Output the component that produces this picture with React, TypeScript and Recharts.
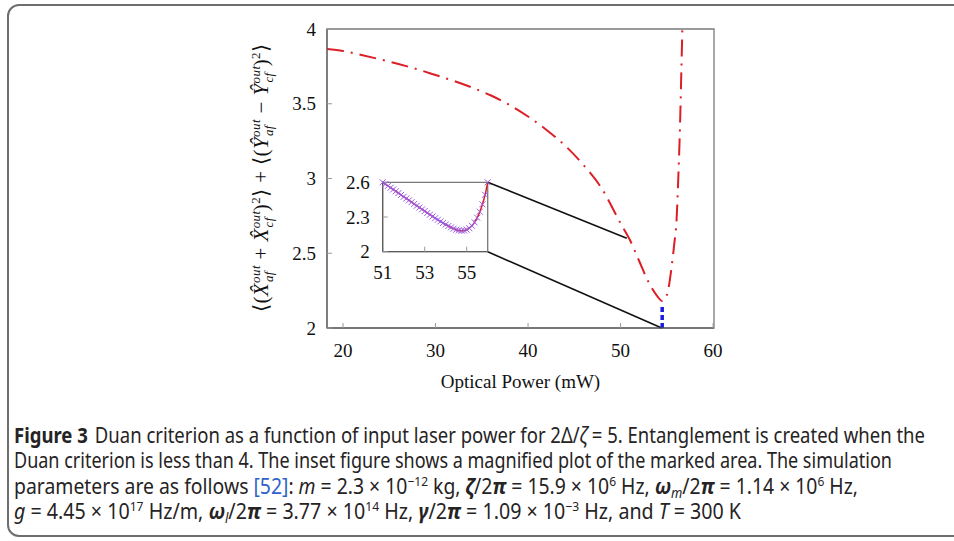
import React from 'react';
import { LineChart, Line, XAxis, YAxis, ReferenceLine, ReferenceArea, Label } from 'recharts';

// ---- main curve (Optical power in mW vs Duan criterion) ----
const mainPower = [18.27, 20, 22, 24, 26, 28, 30, 32, 34, 36, 38, 40, 42, 44, 46, 48, 50, 51, 52, 53, 54, 54.5, 55, 55.5, 55.8, 56.05, 56.25, 56.43, 56.56, 56.68];
const mainDuan = [3.866, 3.853, 3.826, 3.797, 3.766, 3.731, 3.692, 3.652, 3.607, 3.555, 3.492, 3.415, 3.325, 3.22, 3.09, 2.93, 2.7, 2.59, 2.45, 2.31, 2.21, 2.18, 2.22, 2.4, 2.56, 2.72, 3.02, 3.36, 3.69, 4.0];

// ---- inset (magnified marked area) ----
const insetPower = [51, 51.125, 51.25, 51.375, 51.5, 51.625, 51.75, 51.875, 52, 52.125, 52.25, 52.375, 52.5, 52.625, 52.75, 52.875, 53, 53.125, 53.25, 53.375, 53.5, 53.625, 53.75, 53.875, 54, 54.125, 54.25, 54.375, 54.5, 54.625, 54.75, 54.875, 55, 55.125, 55.25, 55.375, 55.5, 55.625, 55.75, 55.875, 56];
const insetDuan = [2.6, 2.585, 2.569, 2.553, 2.538, 2.522, 2.507, 2.491, 2.475, 2.46, 2.444, 2.428, 2.413, 2.397, 2.382, 2.366, 2.351, 2.335, 2.32, 2.305, 2.29, 2.276, 2.262, 2.248, 2.235, 2.222, 2.21, 2.199, 2.19, 2.184, 2.181, 2.183, 2.19, 2.203, 2.224, 2.254, 2.294, 2.346, 2.41, 2.492, 2.6];

const mainXTicks = [20, 30, 40, 50, 60];
const mainYTicks = [2, 2.5, 3, 3.5, 4];
const insetXTicks = [51, 53, 55];
const insetYTicks = [2, 2.3, 2.6];

const mainXDomain = [18.27, 60.1];
const mainYDomain = [2, 4];
const insetXDomain = [51, 56];
const insetYDomain = [2, 2.6];

const xTitle = 'Optical Power (mW)';

// minimum marker & zoom connectors (data coordinates of the main chart)
const minPower = 54.5;
const minMarkerTop = 2.15;
const insetEdgePower = 35.64;
const insetTopDuan = 2.975;
const insetBottomDuan = 2.51;
const markedTop = { x: 50.67, y: 2.6 };
const markedBottom = { x: 54.45, y: 2.0 };

const mainData = mainPower.map((p, i) => ({ power: p, duan: mainDuan[i] }));
const insetData = insetPower.map((p, i) => ({ power: p, duan: insetDuan[i] }));

const SERIF = '"Liberation Serif", "Times New Roman", serif';
const SANS = '"Noto Sans", "Open Sans", sans-serif';
const RED = '#dc1f26';
const TICK_FS = 19;

const BottomTick = (props: any) => {
  const { x, y, payload, index } = props;
  return (
    <text key={`bt-${index}`} x={x} y={y} dy="0.71em" textAnchor="middle" fontFamily={SERIF} fontSize={TICK_FS} fill="#111">
      {payload.value}
    </text>
  );
};

const LeftTick = (props: any) => {
  const { x, y, payload, index } = props;
  return (
    <text key={`lt-${index}`} x={x} y={y} dy="0.35em" textAnchor="end" fontFamily={SERIF} fontSize={TICK_FS} fill="#111">
      {payload.value}
    </text>
  );
};

const XTitle = (props: any) => {
  const vb = props && props.viewBox;
  const cx = vb && vb.width ? vb.x + vb.width / 2 : 520.5;
  const by = vb && vb.height ? vb.y + vb.height + 30 : 388;
  return (
    <text x={cx} y={by} textAnchor="middle" fontFamily={SERIF} fontSize={19} fill="#111">
      {xTitle}
    </text>
  );
};

const Cross = (props: any) => {
  const { cx, cy, index } = props;
  if (cx == null || cy == null) return <g key={`c-${index}`} />;
  const s = 3;
  return (
    <path
      key={`c-${index}`}
      d={`M${cx - s},${cy - s}L${cx + s},${cy + s}M${cx - s},${cy + s}L${cx + s},${cy - s}`}
      stroke="#9a5ce6"
      strokeWidth={1}
      fill="none"
    />
  );
};

const YTitle = () => {
  const cx = 268;
  const cy = 178;
  const sup = { fontSize: 13, fontStyle: 'italic' as const };
  return (
    <text
      x={cx}
      y={cy}
      transform={`rotate(-90 ${cx} ${cy})`}
      textAnchor="middle"
      fontFamily={SERIF}
      fontSize={21}
      fill="#111"
      textLength={268}
      lengthAdjust="spacing"
    >
      <tspan>⟨(</tspan>
      <tspan fontStyle="italic">{'X\u0302'}</tspan>
      <tspan {...sup} dy={-8}>out</tspan>
      <tspan {...sup} dx={-17} dy={13}>af</tspan>
      <tspan dx={6} dy={-5}>{' + '}</tspan>
      <tspan fontStyle="italic">{'X\u0302'}</tspan>
      <tspan {...sup} dy={-8}>out</tspan>
      <tspan {...sup} dx={-17} dy={13}>cf</tspan>
      <tspan dx={6} dy={-5}>)</tspan>
      <tspan fontSize={13} dy={-8}>2</tspan>
      <tspan dy={8}>{'⟩ + ⟨('}</tspan>
      <tspan fontStyle="italic">{'Y\u0302'}</tspan>
      <tspan {...sup} dy={-8}>out</tspan>
      <tspan {...sup} dx={-17} dy={13}>af</tspan>
      <tspan dx={6} dy={-5}>{' − '}</tspan>
      <tspan fontStyle="italic">{'Y\u0302'}</tspan>
      <tspan {...sup} dy={-8}>out</tspan>
      <tspan {...sup} dx={-17} dy={13}>cf</tspan>
      <tspan dx={6} dy={-5}>)</tspan>
      <tspan fontSize={13} dy={-8}>2</tspan>
      <tspan dy={8}>⟩</tspan>
    </text>
  );
};

const Caption = () => {
  const common = { fontFamily: SANS, fontSize: 21, fill: '#262324' };
  const up = (t: string) => (
    <tspan fontSize={13} dy={-8}>{t}</tspan>
  );
  return (
    <svg width={954} height={541} style={{ position: 'absolute', left: 0, top: 0, pointerEvents: 'none' }}>
      <text x={14} y={443} textLength={911} lengthAdjust="spacingAndGlyphs" {...common}>
        <tspan fontWeight="bold">Figure 3</tspan>
        <tspan dx={8}>{'Duan criterion as a function of input laser power for 2Δ/'}</tspan>
        <tspan fontStyle="italic">ζ</tspan>
        <tspan>{' = 5. Entanglement is created when the'}</tspan>
      </text>
      <text x={14} y={468} textLength={878} lengthAdjust="spacingAndGlyphs" {...common}>
        Duan criterion is less than 4. The inset figure shows a magnified plot of the marked area. The simulation
      </text>
      <text x={14} y={494} textLength={844} lengthAdjust="spacingAndGlyphs" {...common}>
        <tspan>{'parameters are as follows '}</tspan>
        <tspan fill="#2f62c8">[52]</tspan>
        <tspan>{': '}</tspan>
        <tspan fontStyle="italic">m</tspan>
        <tspan>{' = 2.3 × 10'}</tspan>
        {up('−12')}
        <tspan dy={8}>{' kg, '}</tspan>
        <tspan fontStyle="italic" fontWeight="bold">ζ</tspan>
        <tspan>/2</tspan>
        <tspan fontStyle="italic" fontWeight="bold">π</tspan>
        <tspan>{' = 15.9 × 10'}</tspan>
        {up('6')}
        <tspan dy={8}>{' Hz, '}</tspan>
        <tspan fontStyle="italic" fontWeight="bold">ω</tspan>
        <tspan fontStyle="italic" fontSize={14} dy={4}>m</tspan>
        <tspan dy={-4}>/2</tspan>
        <tspan fontStyle="italic" fontWeight="bold">π</tspan>
        <tspan>{' = 1.14 × 10'}</tspan>
        {up('6')}
        <tspan dy={8}>{' Hz,'}</tspan>
      </text>
      <text x={14} y={519} textLength={727} lengthAdjust="spacingAndGlyphs" {...common}>
        <tspan fontStyle="italic">g</tspan>
        <tspan>{' = 4.45 × 10'}</tspan>
        {up('17')}
        <tspan dy={8}>{' Hz/m, '}</tspan>
        <tspan fontStyle="italic" fontWeight="bold">ω</tspan>
        <tspan fontStyle="italic" fontSize={14} dy={4}>l</tspan>
        <tspan dy={-4}>/2</tspan>
        <tspan fontStyle="italic" fontWeight="bold">π</tspan>
        <tspan>{' = 3.77 × 10'}</tspan>
        {up('14')}
        <tspan dy={8}>{' Hz, '}</tspan>
        <tspan fontStyle="italic" fontWeight="bold">γ</tspan>
        <tspan>/2</tspan>
        <tspan fontStyle="italic" fontWeight="bold">π</tspan>
        <tspan>{' = 1.09 × 10'}</tspan>
        {up('−3')}
        <tspan dy={8}>{' Hz, and '}</tspan>
        <tspan fontStyle="italic">T</tspan>
        <tspan>{' = 300 K'}</tspan>
      </text>
    </svg>
  );
};

export default function App() {
  return (
    <div style={{ position: 'absolute', left: 0, top: 0, width: 954, height: 541, overflow: 'hidden', background: '#fff' }}>
      <div
        style={{
          position: 'absolute',
          left: 7,
          top: 4,
          width: 1000,
          height: 533,
          border: '2px solid #6e6e6e',
          borderRadius: 12,
          boxSizing: 'border-box',
        }}
      />
      <div style={{ position: 'absolute', left: 0, top: 0 }}>
        <LineChart width={954} height={541} data={mainData} margin={{ top: 29, right: 240, bottom: 183, left: 267 }}>
          <ReferenceArea
            x1={mainXDomain[0]}
            x2={mainXDomain[1]}
            y1={mainYDomain[0]}
            y2={mainYDomain[1]}
            fill="none"
            stroke="#7a7a7a"
            strokeWidth={1.3}
            ifOverflow="visible"
          />
          <XAxis
            type="number"
            dataKey="power"
            domain={mainXDomain}
            ticks={mainXTicks}
            allowDataOverflow
            height={30}
            tickSize={-5}
            tickMargin={21}
            tick={BottomTick}
            tickLine={{ stroke: '#999' }}
            axisLine={{ stroke: '#555' }}
            label={<Label content={XTitle} />}
          />
          <YAxis
            type="number"
            domain={mainYDomain}
            ticks={mainYTicks}
            allowDataOverflow
            width={60}
            tickSize={-5}
            tickMargin={16}
            tick={LeftTick}
            tickLine={{ stroke: '#999' }}
            axisLine={{ stroke: '#555' }}
            label={<YTitle />}
          />
          <ReferenceLine
            segment={[{ x: insetEdgePower, y: insetTopDuan }, markedTop]}
            stroke="#111"
            strokeWidth={1.6}
            ifOverflow="visible"
          />
          <ReferenceLine
            segment={[{ x: insetEdgePower, y: insetBottomDuan }, markedBottom]}
            stroke="#111"
            strokeWidth={1.6}
            ifOverflow="visible"
          />
          <ReferenceLine
            segment={[{ x: minPower, y: mainYDomain[0] }, { x: minPower, y: minMarkerTop }]}
            stroke="#1c1ce0"
            strokeWidth={3.5}
            strokeDasharray="5 3"
            ifOverflow="visible"
          />
          <Line
            type="monotone"
            dataKey="duan"
            stroke={RED}
            strokeWidth={2}
            strokeDasharray="17 7 2 7"
            dot={false}
            isAnimationActive={false}
          />
        </LineChart>
      </div>
      <div style={{ position: 'absolute', left: 330, top: 170 }}>
        <LineChart width={170} height={120} data={insetData} margin={{ top: 12.3, right: 12.3, bottom: 13.3, left: 12.7 }}>
          <ReferenceArea
            x1={insetXDomain[0]}
            x2={insetXDomain[1]}
            y1={insetYDomain[0]}
            y2={insetYDomain[1]}
            fill="#fff"
            stroke="#7a7a7a"
            strokeWidth={1.3}
            ifOverflow="visible"
          />
          <XAxis
            type="number"
            dataKey="power"
            domain={insetXDomain}
            ticks={insetXTicks}
            height={25}
            tickSize={-5}
            tickMargin={19}
            tick={BottomTick}
            tickLine={{ stroke: '#999' }}
            axisLine={{ stroke: '#555' }}
          />
          <YAxis
            type="number"
            domain={insetYDomain}
            ticks={insetYTicks}
            width={40}
            tickSize={-5}
            tickMargin={18}
            tick={LeftTick}
            tickLine={{ stroke: '#999' }}
            axisLine={{ stroke: '#555' }}
          />
          <Line type="monotone" dataKey="duan" stroke={RED} strokeWidth={1.5} dot={false} isAnimationActive={false} />
          <Line type="monotone" dataKey="duan" stroke="none" dot={Cross} isAnimationActive={false} />
        </LineChart>
      </div>
      <Caption />
    </div>
  );
}
